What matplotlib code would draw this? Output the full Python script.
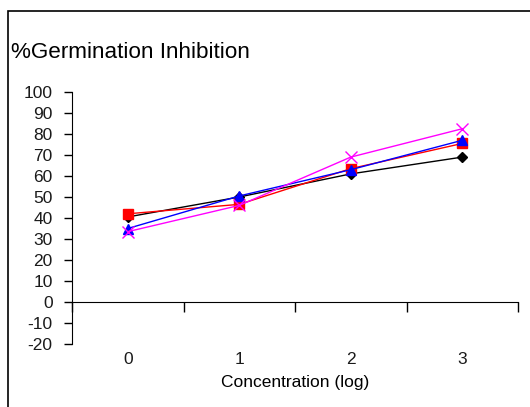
import matplotlib.pyplot as plt
from matplotlib.patches import Rectangle
from matplotlib.transforms import blended_transform_factory

plt.rcParams['font.family'] = ['Liberation Sans', 'DejaVu Sans']
plt.rcParams['axes.unicode_minus'] = False

# concentration levels (log) and % germination inhibition for each series
conc = [0, 1, 2, 3]
series_black = [40.5, 50, 61, 69]
series_red = [42, 46.5, 63.5, 75.5]
series_blue = [35, 50.5, 63, 77]
series_magenta = [33.5, 46, 69, 82.5]

fig = plt.figure(figsize=(5.3, 4.07), dpi=100)
ax = fig.add_axes([72 / 530, 1 - 344 / 407, 446 / 530, 252 / 407])

ax.plot(conc, series_black, color="black", lw=1, marker="D", ms=5.5)
ax.plot(conc, series_red, color="red", lw=1, marker="s", ms=6.5)
ax.plot(conc, series_blue, color="blue", lw=1, marker="^", ms=7.5)
ax.plot(conc, series_magenta, color="magenta", lw=1, marker="x", ms=8, mew=1)

ax.set_xlim(-0.5, 3.5)
ax.set_ylim(-20, 100)
ax.set_yticks(range(-20, 101, 10))

# category axis sits on the zero line, ticks between categories
ax.spines["bottom"].set_position(("data", 0))
ax.spines["top"].set_visible(False)
ax.spines["right"].set_visible(False)
ax.set_xticks([-0.5, 0.5, 1.5, 2.5, 3.5])
ax.set_xticklabels([])
ax.tick_params(axis="x", direction="out", length=7, width=1)
ax.tick_params(axis="y", direction="out", length=6, width=1, labelsize=12.5,
               pad=8, labelcolor="#1a1a1a")

trans = blended_transform_factory(ax.transData, ax.transAxes)
for c in conc:
    ax.text(c, -0.06, str(c), transform=trans, ha="center", va="center",
            fontsize=12.5, color="#1a1a1a")

fig.text(295 / 530, 1 - 382 / 407, "Concentration (log)", ha="center",
         va="center", fontsize=12.5)
fig.text(11 / 530, 1 - 52 / 407, "%Germination Inhibition", ha="left",
         va="center", fontsize=16.2)

# outer frame
fig.patches.append(Rectangle((8 / 530, -0.1), 1.0, 1 - 11 / 407 + 0.1,
                             transform=fig.transFigure, fill=False,
                             edgecolor="black", lw=1.2))

fig.savefig("out.png", dpi=100)
